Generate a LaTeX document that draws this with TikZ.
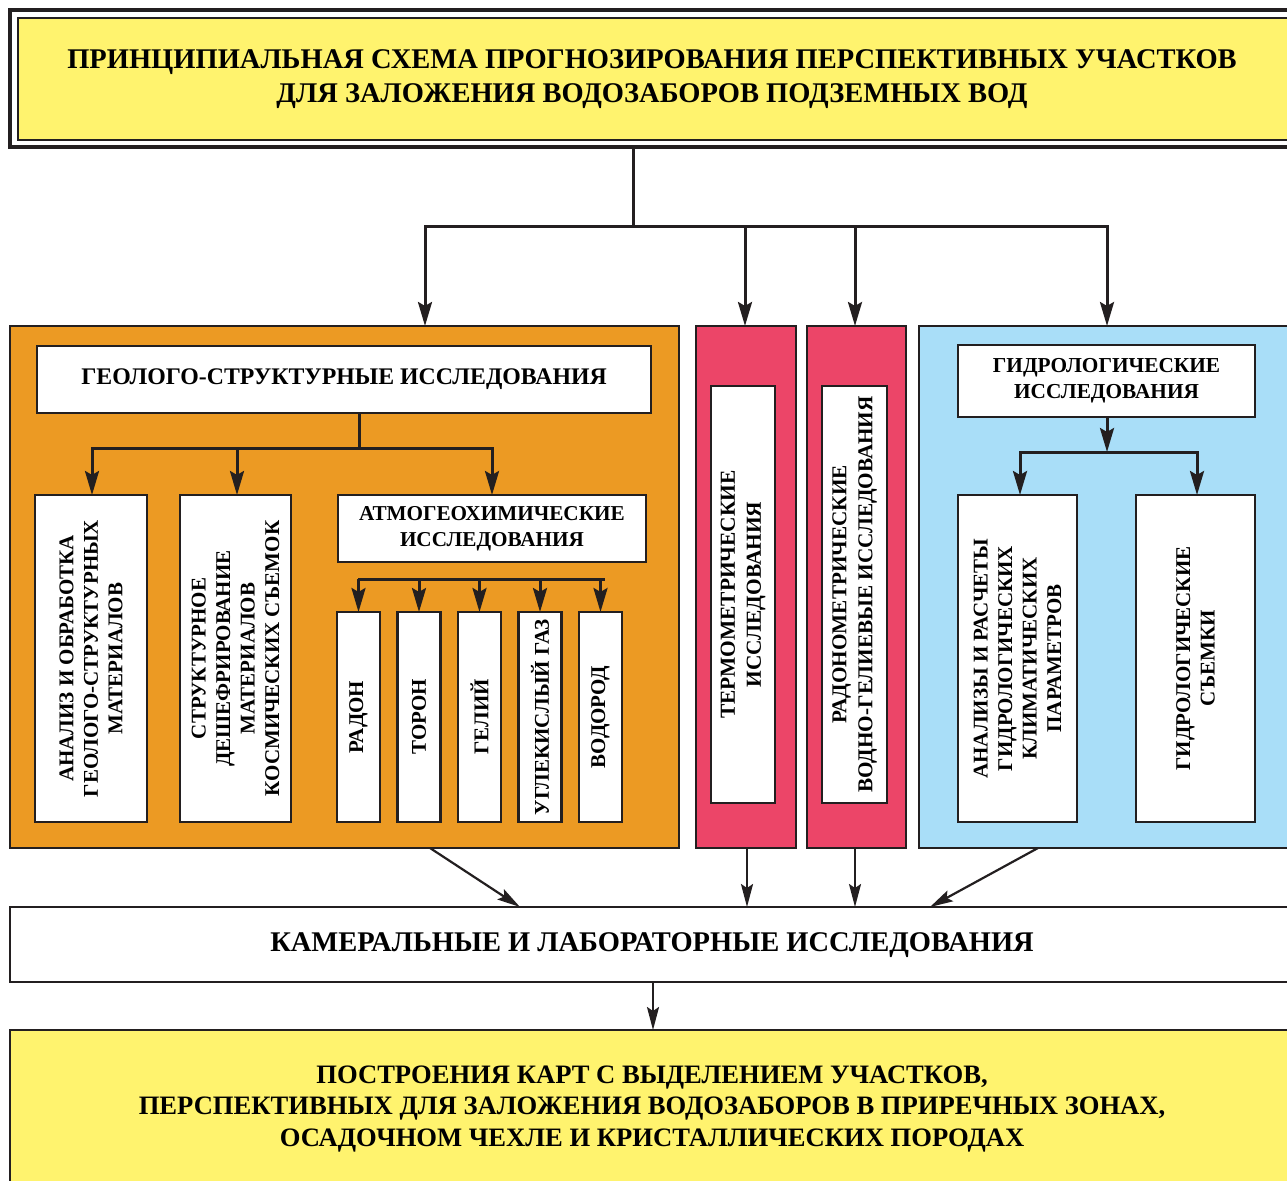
\documentclass[tikz,border=0pt]{standalone}
\usepackage{fontspec}
\setmainfont{Liberation Serif}
\usetikzlibrary{arrows.meta}
\definecolor{ylw}{HTML}{FFF36E}
\definecolor{org}{HTML}{EC9A23}
\definecolor{pnk}{HTML}{EC4568}
\definecolor{blu}{HTML}{A9DEF8}
\definecolor{ink}{HTML}{231F20}
\tikzset{
  box/.style={draw=ink, line width=2.8pt, inner sep=0pt, outer sep=0pt, align=center, font=\bfseries},
  wbox/.style={box, fill=white},
  lbl/.style={inner sep=0pt, align=center, font=\bfseries},
  vt/.style={rotate=90},
  conn/.style={draw=ink, line width=3pt},
  arr/.style={draw=ink, line width=3pt, -{Stealth[length=24pt,width=14pt,inset=4pt]}},
  arrs/.style={draw=ink, line width=2.2pt, -{Stealth[length=23pt,width=12pt,inset=4pt]}},
  vfont/.style={font=\bfseries\fontsize{21}{24.5}\selectfont},
}
\begin{document}
\begin{tikzpicture}[x=1pt,y=-1pt]
\useasboundingbox (0,0) rectangle (1287,1180);
% title
\node[box, line width=4pt, minimum width=1290pt, minimum height=137pt] (titleouter) at (655,78.5) {};
\node[box, fill=ylw, line width=2.8pt, minimum width=1274pt, minimum height=122pt] (title) at (655,79) {};
\node[lbl, font=\bfseries\fontsize{28.5}{34}\selectfont] (titletext) at (652,79) {ПРИНЦИПИАЛЬНАЯ СХЕМА ПРОГНОЗИРОВАНИЯ ПЕРСПЕКТИВНЫХ УЧАСТКОВ\\ДЛЯ ЗАЛОЖЕНИЯ ВОДОЗАБОРОВ ПОДЗЕМНЫХ ВОД};

% main columns
\node[box, fill=org, minimum width=669pt, minimum height=522pt] (orange) at (344.5,587) {};
\node[box, fill=pnk, minimum width=100pt, minimum height=522pt] (pink1) at (746,587) {};
\node[box, fill=pnk, minimum width=99pt, minimum height=522pt] (pink2) at (856.5,587) {};
\node[box, fill=blu, minimum width=381pt, minimum height=522pt] (blue) at (1109.5,587) {};

% top connector
\coordinate (j) at (633,226);
\coordinate (bl) at (425,226);
\coordinate (br) at (1107,226);
\coordinate (b1) at (745,226);
\coordinate (b2) at (855,226);
\draw[conn] (titleouter.south -| j) -- (j);
\draw[conn, line cap=rect] (bl) -- (br);
\draw[arr] (bl) -- (orange.north -| bl);
\draw[arr] (b1) -- (pink1.north -| b1);
\draw[arr] (b2) -- (pink2.north -| b2);
\draw[arr] (br) -- (blue.north -| br);

% geology block
\node[wbox, minimum width=614pt, minimum height=67pt, font=\bfseries\fontsize{23.8}{28}\selectfont] (geo) at (344,379.5) {ГЕОЛОГО-СТРУКТУРНЫЕ ИССЛЕДОВАНИЯ};
\node[wbox, minimum width=112pt, minimum height=327pt] (g1) at (91,658.5) {};
\node[lbl, vt, vfont] (g1t) at (g1) {АНАЛИЗ И ОБРАБОТКА\\ГЕОЛОГО-СТРУКТУРНЫХ\\МАТЕРИАЛОВ};
\node[wbox, minimum width=111pt, minimum height=327pt] (g2) at (235.5,658.5) {};
\node[lbl, vt, vfont] (g2t) at (g2) {СТРУКТУРНОЕ\\ДЕШЕФРИРОВАНИЕ\\МАТЕРИАЛОВ\\КОСМИЧЕСКИХ СЪЕМОК};
\node[wbox, minimum width=308pt, minimum height=67pt, font=\bfseries\fontsize{21.2}{26}\selectfont] (atmo) at (492,528.5) {АТМОГЕОХИМИЧЕСКИЕ\\ИССЛЕДОВАНИЯ};
\coordinate (gj) at (359,448);
\coordinate (gl) at (92,448);
\coordinate (gm) at (237,448);
\coordinate (gr) at (492,448);
\draw[conn] (geo.south -| gj) -- (gj);
\draw[conn, line cap=rect] (gl) -- (gr);
\draw[arr] (gl) -- (g1.north -| gl);
\draw[arr] (gm) -- (g2.north -| gm);
\draw[arr] (gr) -- (atmo.north -| gr);

% gases
\foreach \n/\cx/\t in {s1/358.5/РАДОН, s2/419/ТОРОН, s3/479.5/ГЕЛИЙ, s4/540/УГЛЕКИСЛЫЙ ГАЗ, s5/600.5/ВОДОРОД}{
  \node[wbox, minimum width=43pt, minimum height=210pt] (\n) at (\cx,717) {};
  \node[lbl, vt, vfont] (\n t) at (\n) {\t};
}
\coordinate (al) at (359,579);
\coordinate (ar) at (603,579);
\draw[conn, line cap=rect] (al) -- (ar);
\foreach \n in {s1,s2,s3,s4,s5}{
  \draw[arr] (al -| \n) -- (\n.north);
}

% pink inner
\node[wbox, minimum width=64pt, minimum height=417pt] (thermo) at (743,594.5) {};
\node[lbl, vt, font=\bfseries\fontsize{21.4}{26}\selectfont] (thermot) at (thermo) {ТЕРМОМЕТРИЧЕСКИЕ\\ИССЛЕДОВАНИЯ};
\node[wbox, minimum width=65pt, minimum height=417pt] (radon) at (854.5,594.5) {};
\node[lbl, vt, font=\bfseries\fontsize{21.2}{26}\selectfont] (radont) at (radon) {РАДОНОМЕТРИЧЕСКИЕ\\ВОДНО-ГЕЛИЕВЫЕ ИССЛЕДОВАНИЯ};

% hydrology block
\node[wbox, minimum width=297pt, minimum height=72pt, font=\bfseries\fontsize{21.3}{26}\selectfont] (hydro) at (1106.5,381) {ГИДРОЛОГИЧЕСКИЕ\\ИССЛЕДОВАНИЯ};
\node[wbox, minimum width=119pt, minimum height=327pt] (h1) at (1017.5,658.5) {};
\node[lbl, vt, vfont] (h1t) at (h1) {АНАЛИЗЫ И РАСЧЕТЫ\\ГИДРОЛОГИЧЕСКИХ\\КЛИМАТИЧЕСКИХ\\ПАРАМЕТРОВ};
\node[wbox, minimum width=119pt, minimum height=327pt] (h2) at (1195.5,658.5) {};
\node[lbl, vt, vfont] (h2t) at (h2) {ГИДРОЛОГИЧЕСКИЕ\\СЪЕМКИ};
\coordinate (hj) at (1107,452);
\coordinate (hl) at (1020,452);
\coordinate (hr) at (1197,452);
\draw[arr] (hydro.south -| hj) -- (hj);
\draw[conn, line cap=rect] (hl) -- (hr);
\draw[arr] (hl) -- (h1.north -| hl);
\draw[arr] (hr) -- (h2.north -| hr);

% lower boxes
\node[box, fill=white, minimum width=1290pt, minimum height=75pt] (kam) at (655,944.5) {};
\node[lbl, font=\bfseries\fontsize{28.5}{30}\selectfont] (kamt) at (652,945) {КАМЕРАЛЬНЫЕ И ЛАБОРАТОРНЫЕ ИССЛЕДОВАНИЯ};
\node[box, fill=ylw, minimum width=1290pt, minimum height=170pt] (final) at (655,1115) {};
\node[lbl, font=\bfseries\fontsize{26.6}{31.5}\selectfont] (finalt) at (652,1109) {ПОСТРОЕНИЯ КАРТ С ВЫДЕЛЕНИЕМ УЧАСТКОВ,\\ПЕРСПЕКТИВНЫХ ДЛЯ ЗАЛОЖЕНИЯ ВОДОЗАБОРОВ В ПРИРЕЧНЫХ ЗОНАХ,\\ОСАДОЧНОМ ЧЕХЛЕ И КРИСТАЛЛИЧЕСКИХ ПОРОДАХ};

% bottom arrows
\draw[arrs] (orange.south -| 430,0) -- (kam.north -| 520,0);
\draw[arrs] (pink1.south -| 747,0) -- (kam.north -| 747,0);
\draw[arrs] (pink2.south -| 855,0) -- (kam.north -| 855,0);
\draw[arrs] (blue.south -| 1038,0) -- (kam.north -| 930,0);
\draw[arrs] (kam.south -| 653,0) -- (final.north -| 653,0);
\end{tikzpicture}
\end{document}
